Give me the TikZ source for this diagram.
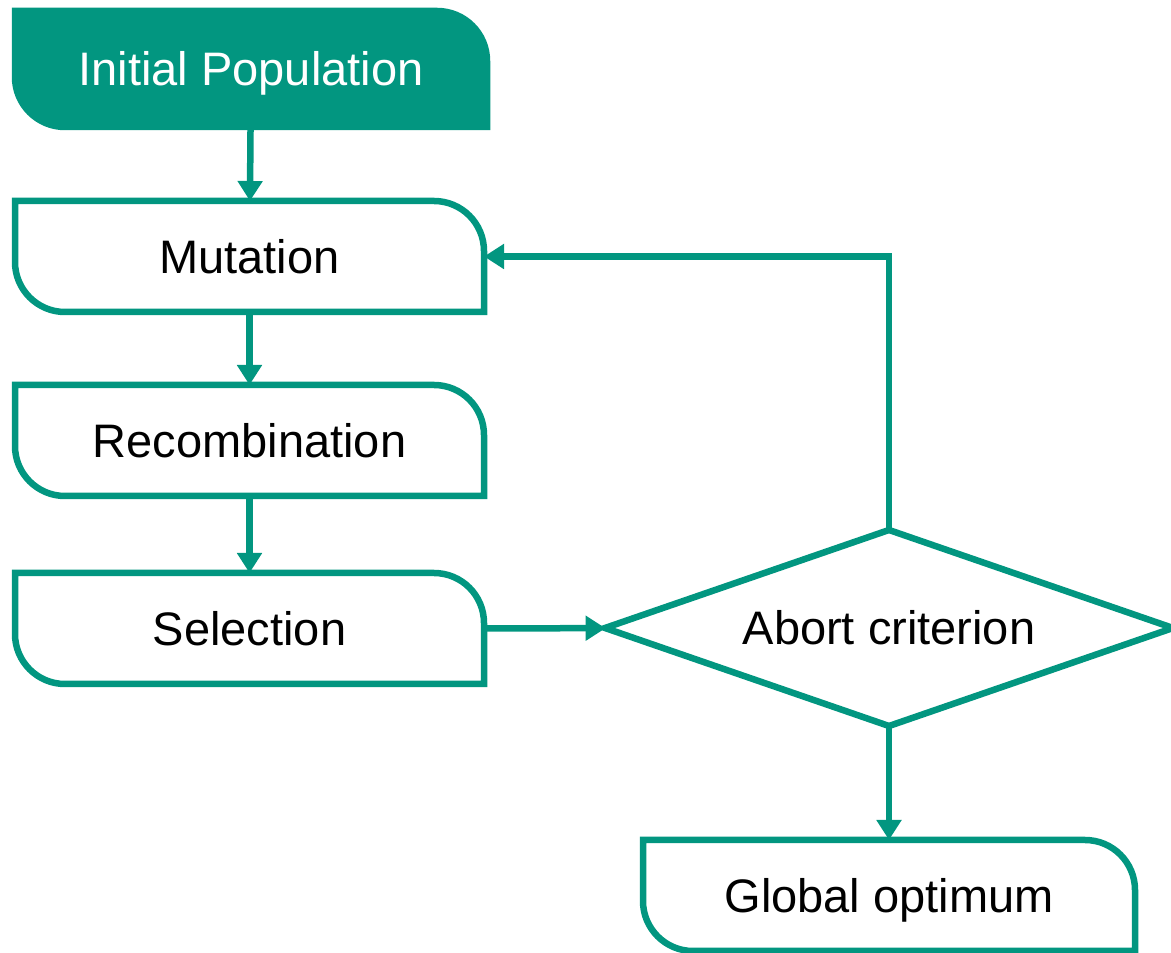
\documentclass[tikz,border=0pt]{standalone}
\usepackage{fontspec}
\setmainfont{Liberation Sans}
\usetikzlibrary{arrows.meta,shapes.geometric,backgrounds}
\definecolor{evoteal}{RGB}{2,150,128}
\tikzset{
	boxline/.style = {draw = evoteal, line width = 6.5pt},
	flowbox/.style = {rectangle, inner sep = 0pt, outer sep = 0pt, minimum width = 469pt, minimum height = 111pt,
		text height = 34pt, text depth = 0pt, font = \fontsize{47}{56}\selectfont},
	flowarrow/.style = {draw = evoteal, line width = 6.5pt, -{Triangle[width = 24pt, length = 20pt]}},
}
% box with rounded top right and bottom left corners
\newcommand{\cornerbox}[2][]{%
	\draw [boxline, #1] (#2.north west) -- ([xshift = -50pt]#2.north east)
		arc [start angle = 90, end angle = 0, radius = 50pt] -- (#2.south east)
		-- ([xshift = 50pt]#2.south west) arc [start angle = 270, end angle = 180, radius = 50pt] -- cycle;}
\begin{document}
\begin{tikzpicture} [x = 1pt, y = 1pt]
	\useasboundingbox (0,0) rectangle (1171,953);
	\node [flowbox, minimum width = 472pt, minimum height = 116pt, text = white] (init) at (251,884) {Initial Population};
	\node [flowbox] (mut) at (249.5,696.5) {Mutation};
	\node [flowbox] (rec) at (249.5,512.5) {Recombination};
	\node [flowbox] (sel) at (249.5,324.5) {Selection};
	\node [diamond, aspect = 2.9, inner sep = 0pt, outer sep = 0pt, minimum width = 568pt, minimum height = 196pt,
		boxline, text height = 34pt, text depth = 0pt, font = \fontsize{47}{56}\selectfont] (abort) at (889,325) {Abort criterion};
	\node [flowbox, minimum width = 492pt] (glob) at (889,57.5) {Global optimum};
	\begin{scope} [on background layer]
	\cornerbox[fill = evoteal]{init}
	\cornerbox{mut}
	\cornerbox{rec}
	\cornerbox{sel}
	\cornerbox{glob}
	\end{scope}
	\draw [flowarrow] (init) -- (mut);
	\draw [flowarrow] (mut) -- (rec);
	\draw [flowarrow] (rec) -- (sel);
	\draw [flowarrow] (sel) -- (abort);
	\draw [flowarrow] (abort) -- (glob);
	\draw [flowarrow] (abort.north) |- (mut.east);
\end{tikzpicture}
\end{document}
